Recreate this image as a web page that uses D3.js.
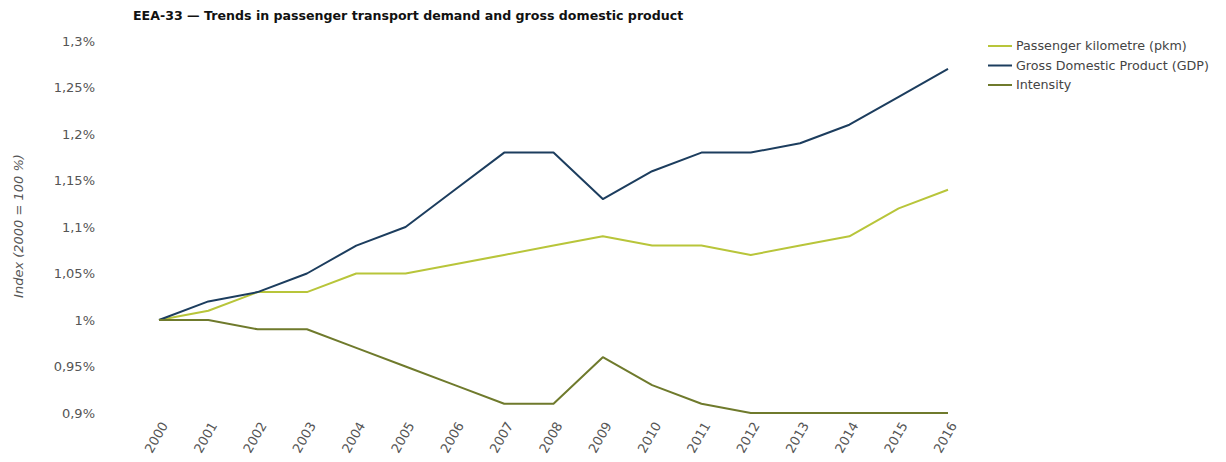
<!DOCTYPE html>
<html>
<head>
<meta charset="utf-8">
<script src="https://cdn.jsdelivr.net/npm/d3@7"></script>
<style>
  body { margin: 0; background: #fff; font-family: "DejaVu Sans", sans-serif; }
  .tick text { fill: #555; font-size: 13px; font-family: "DejaVu Sans", sans-serif; }
  .domain, .tick line { display: none; }
</style>
</head>
<body>
<div id="chart"></div>
<script>
"use strict"

const years = ["2000", "2001", "2002", "2003", "2004", "2005", "2006", "2007", "2008",
    "2009", "2010", "2011", "2012", "2013", "2014", "2015", "2016"];
const pkm = [1.00, 1.01, 1.03, 1.03, 1.05, 1.05, 1.06, 1.07, 1.08, 1.09, 1.08, 1.08, 1.07, 1.08, 1.09, 1.12, 1.14];
const gdp = [1.00, 1.02, 1.03, 1.05, 1.08, 1.10, 1.14, 1.18, 1.18, 1.13, 1.16, 1.18, 1.18, 1.19, 1.21, 1.24, 1.27];
const intensity = [1.00, 1.00, 0.99, 0.99, 0.97, 0.95, 0.93, 0.91, 0.91, 0.96, 0.93, 0.91, 0.90, 0.90, 0.90, 0.90, 0.90];
const yTicks = [0.9, 0.95, 1.0, 1.05, 1.1, 1.15, 1.2, 1.25, 1.3];
const seriesNames = ["Passenger kilometre (pkm)", "Gross Domestic Product (GDP)", "Intensity"];
const colors = ["#b8c53a", "#1c3d5e", "#6f7a2c"];

let width = 1226,
    height = 462;

const svg = d3.select("#chart").append("svg")
    .attr("width", width)
    .attr("height", height);

const scaleX = d3.scalePoint()
    .domain(years)
    .range([159, 948]);

const scaleY = d3.scaleLinear()
    .domain([0.9, 1.3])
    .range([413, 41]);

const fmt = v => d3.format(".2~f")(v).replace(".", ",") + "%";

// оси
svg.append("g")
    .attr("transform", "translate(95,0)")
    .call(d3.axisLeft(scaleY).tickValues(yTicks).tickFormat(fmt).tickSize(0).tickPadding(0));

svg.append("g")
    .attr("transform", "translate(0,421)")
    .call(d3.axisBottom(scaleX).tickSize(0).tickPadding(0))
    .selectAll("text")
    .attr("text-anchor", "end")
    .attr("dy", "0.35em")
    .attr("transform", "translate(5,2) rotate(-60)");

// линии
const line = d3.line()
    .x((d, i) => scaleX(years[i]))
    .y(d => scaleY(d));

[pkm, gdp, intensity].forEach((s, i) => {
    svg.append("path")
        .datum(s)
        .attr("fill", "none")
        .attr("stroke", colors[i])
        .attr("stroke-width", 2)
        .attr("stroke-linejoin", "round")
        .attr("d", line);
});

// заголовок
svg.append("text")
    .attr("x", 133)
    .attr("y", 20)
    .attr("font-size", 12.6)
    .attr("font-weight", "bold")
    .attr("fill", "#111")
    .text("EEA-33 \u2014 Trends in passenger transport demand and gross domestic product");

svg.append("text")
    .attr("transform", "translate(23,226) rotate(-90)")
    .attr("text-anchor", "middle")
    .attr("font-size", 13)
    .attr("font-style", "italic")
    .attr("fill", "#555")
    .text("Index (2000 = 100 %)");

// легенда
const legend = svg.append("g");
seriesNames.forEach((name, i) => {
    const y = 46 + i * 19.5;
    legend.append("line")
        .attr("x1", 988).attr("x2", 1012)
        .attr("y1", y).attr("y2", y)
        .attr("stroke", colors[i])
        .attr("stroke-width", 2);
    legend.append("text")
        .attr("x", 1016)
        .attr("y", y)
        .attr("dy", "0.35em")
        .attr("font-size", 12.7)
        .attr("fill", "#444")
        .text(name);
});
</script>
</body>
</html>
